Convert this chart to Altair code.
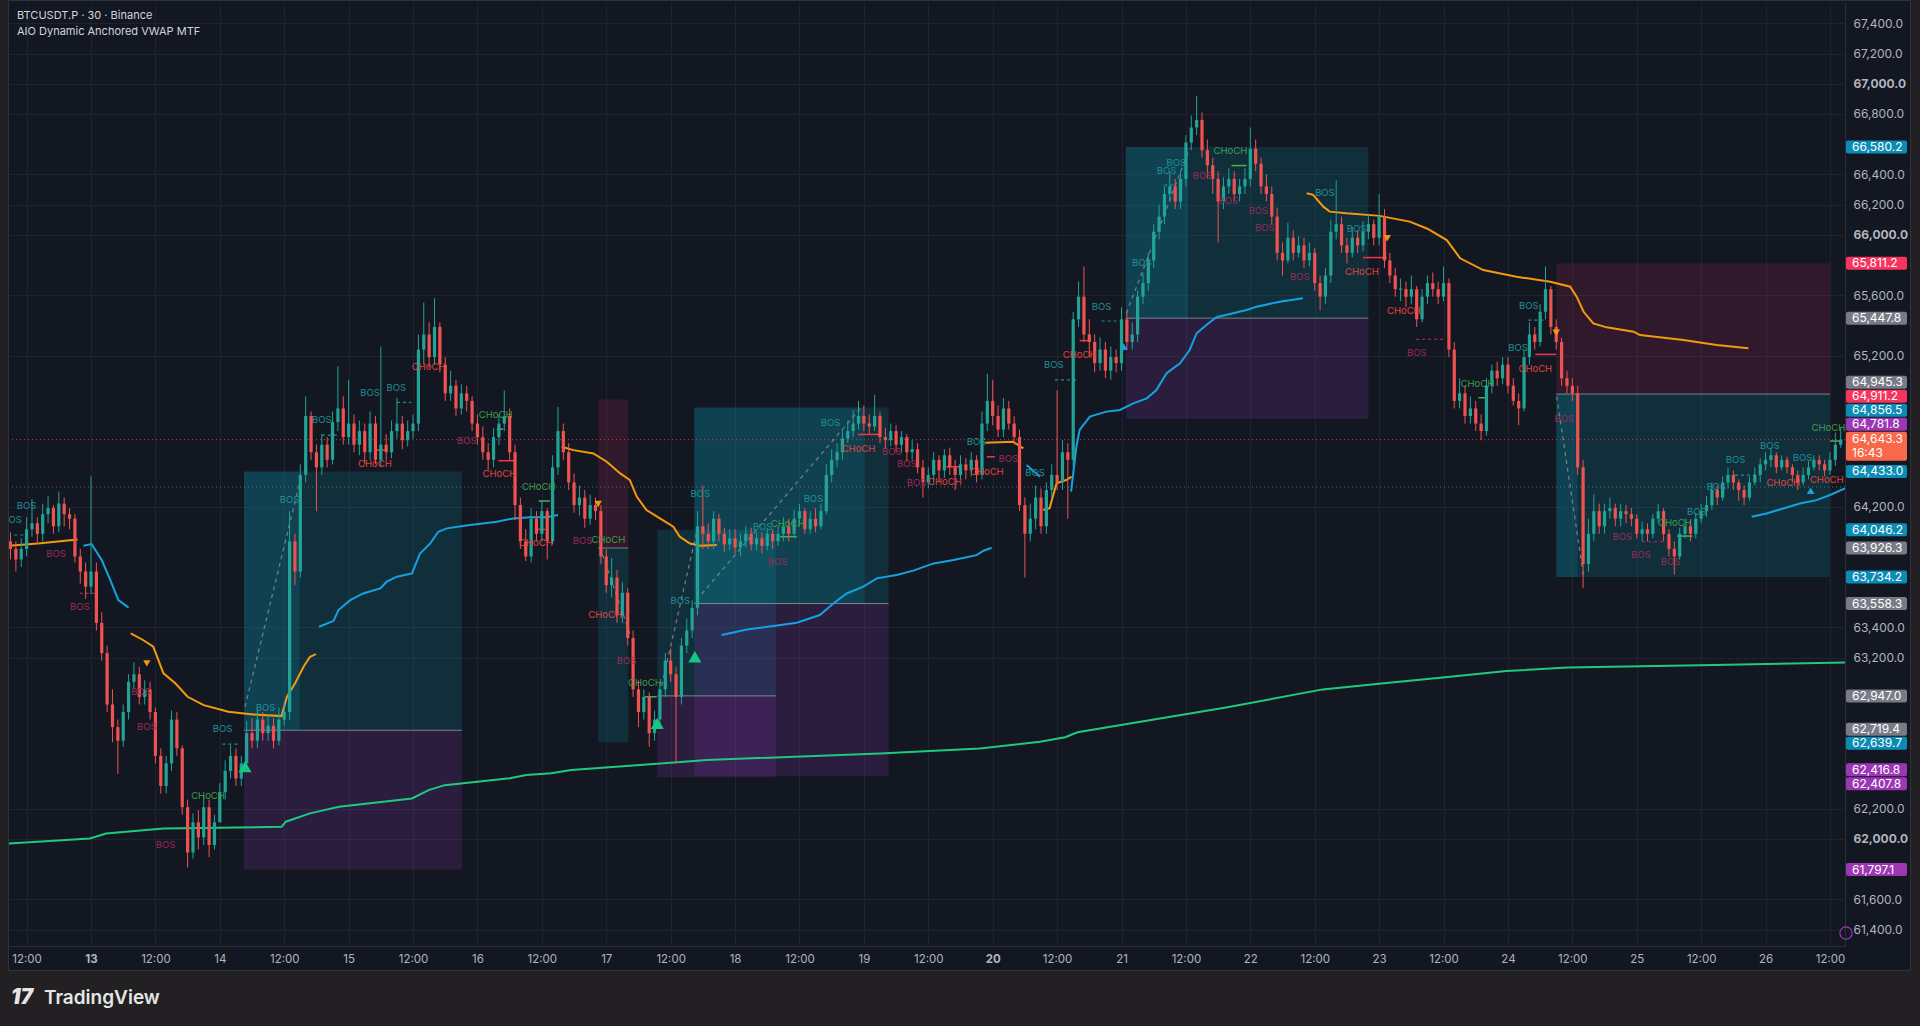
import altair as alt
import pandas as pd

# ---------------------------------------------------------------- texts
TITLE_LINE_1 = "BTCUSDT.P · 30 · Binance"
TITLE_LINE_2 = "AIO Dynamic Anchored VWAP MTF"
BRAND = "TradingView"
COUNTDOWN = "16:43"

# ---------------------------------------------------------------- candles (hourly, hour 0 = 12 Oct 00:00)
FIRST_HOUR = 9
FIRST_OPEN = 63970

CLOSE = [
    63920, 63850, 63920, 64050, 64090, 64020, 64150, 64190, 64070, 64220, 64150, 64120, 63870, 63770, 63670,
    63770, 63430, 63230, 62890, 62740, 62650, 62840, 63040, 63090, 62940, 62990, 62840, 62550, 62350, 62500, 62790, 62600, 62210, 61910, 62110, 62010, 62210, 61960, 62110,
    62310, 62450, 62550, 62400, 62500, 62700, 62650, 62790, 62700, 62750, 62650, 62790, 62840, 63970, 63770, 64410, 64800, 64560, 64460, 64610, 64510, 64760, 64850, 64660,
    64750, 64610, 64700, 64560, 64750, 64510, 64610, 64560, 64700, 64750, 64640, 64700, 64750, 65240, 65340, 65190, 65390, 65140, 64950, 65000, 64850, 64950, 64900, 64750,
    64660, 64560, 64510, 64660, 64750, 64800, 64560, 64210, 63970, 63870, 64120, 64020, 64170, 63970, 64460, 64700, 64560, 64360, 64210, 64260, 64120, 64210, 64170, 63870,
    63680, 63730, 63480, 63630, 63330, 62990, 62840, 62940, 62700, 62790, 62990, 63180, 63090, 62940, 63280, 63380, 63530, 64070, 64020, 63970, 64120, 64020, 63950, 63990,
    63930, 63970, 64020, 63950, 63990, 63940, 64020, 63970, 64020, 64070, 64020, 64120, 64170, 64050, 64120, 64070, 64170, 64410, 64510, 64560, 64650, 64700, 64750, 64800,
    64750, 64730, 64800, 64660, 64640, 64700, 64610, 64660, 64560, 64580, 64460, 64360, 64410, 64510, 64440, 64540, 64460, 64410, 64480, 64440, 64510, 64410, 64750, 64900,
    64800, 64710, 64850, 64750, 64660, 64210, 64020, 64120, 64260, 64070, 64310, 64410, 64360, 64560, 64510, 65440, 65590, 65340, 65290, 65150, 65240, 65100, 65190, 65150,
    65440, 65290, 65340, 65590, 65680, 65830, 66020, 66120, 66270, 66320, 66220, 66370, 66610, 66710, 66760, 66560, 66460, 66370, 66220, 66320, 66370, 66270, 66320, 66370,
    66570, 66470, 66320, 66270, 66120, 65880, 65830, 65980, 65880, 65930, 65830, 65880, 65680, 65590, 65730, 66020, 66070, 65930, 65880, 65980, 65930, 66020, 66070, 65980,
    66120, 65830, 65730, 65640, 65640, 65590, 65640, 65440, 65590, 65680, 65640, 65590, 65680, 65240, 64900, 64950, 64800, 64850, 64750, 64700, 65000, 65100, 65050, 65140,
    65000, 64900, 64850, 65190, 65340, 65290, 65490, 65640, 65390, 65290, 65050, 65000, 64950, 64460, 63820, 64020, 64170, 64070, 64170, 64190, 64120, 64170, 64150, 64120,
    64020, 64050, 64020, 64120, 64170, 64020, 63920, 63870, 64020, 64070, 64020, 64120, 64170, 64210, 64310, 64260, 64360, 64410, 64360, 64310, 64260, 64360, 64410, 64480,
    64510, 64540, 64460, 64510, 64460, 64410, 64360, 64410, 64460, 64510, 64480, 64440, 64510, 64610, 64643.3,
]
HIGH = [
    64030, 63970, 63990, 64130, 64250, 64130, 64220, 64270, 64210, 64300, 64260, 64190, 64150, 63920, 63830,
    64400, 63830, 63500, 63280, 62990, 62790, 62890, 63090, 63170, 63140, 63050, 63040, 62870, 62600, 62550, 62850, 62840, 62620, 62260, 62170, 62190, 62290, 62260, 62160,
    62370, 62520, 62620, 62600, 62550, 62780, 62800, 62860, 62840, 62820, 62800, 62870, 62910, 64170, 64020, 64480, 64930, 64830, 64610, 64680, 64660, 64830, 65130, 64930,
    65040, 64810, 64770, 64750, 64830, 64800, 65260, 64680, 64770, 64920, 64800, 64770, 64810, 65340, 65550, 65420, 65580, 65420, 65190, 65100, 65040, 65010, 65000, 64930,
    64810, 64730, 64620, 64720, 64810, 64970, 64850, 64610, 64260, 64050, 64190, 64170, 64240, 64190, 64540, 64860, 64750, 64620, 64420, 64340, 64310, 64280, 64260, 64210,
    63920, 63860, 63780, 63700, 63660, 63380, 63050, 62990, 62970, 62850, 63040, 63230, 63260, 63140, 63330, 63460, 63580, 64170, 64340, 64090, 64170, 64150, 64060, 64050,
    64050, 64020, 64070, 64060, 64030, 64030, 64060, 64050, 64070, 64130, 64120, 64180, 64220, 64190, 64170, 64190, 64220, 64480, 64580, 64620, 64710, 64770, 64840, 64900,
    64870, 64810, 64940, 64830, 64720, 64750, 64740, 64700, 64680, 64640, 64620, 64510, 64460, 64560, 64540, 64580, 64590, 64510, 64540, 64520, 64560, 64540, 64830, 65080,
    65040, 64870, 64920, 64900, 64800, 64710, 64260, 64220, 64340, 64320, 64360, 64480, 64970, 64640, 64620, 65490, 65690, 65790, 65440, 65340, 65320, 65290, 65260, 65240,
    65520, 65490, 65420, 65630, 65750, 65880, 66070, 66200, 66320, 66420, 66370, 66420, 66660, 66790, 66920, 66810, 66630, 66510, 66420, 66380, 66440, 66420, 66370, 66440,
    66710, 66630, 66510, 66400, 66320, 66180, 65950, 66080, 66030, 65990, 65980, 65950, 65910, 65730, 65780, 66100, 66360, 66120, 65980, 66050, 66030, 66090, 66140, 66100,
    66270, 66170, 65880, 65780, 65710, 65690, 65730, 65660, 65640, 65730, 65750, 65690, 65790, 65710, 65290, 65050, 65000, 64930, 64900, 64810, 65050, 65140, 65160, 65190,
    65190, 65050, 64950, 65240, 65420, 65390, 65540, 65790, 65660, 65440, 65320, 65100, 65050, 65000, 64510, 64120, 64280, 64220, 64220, 64260, 64220, 64220, 64210, 64190,
    64150, 64100, 64090, 64150, 64220, 64190, 64050, 63970, 64060, 64120, 64110, 64160, 64220, 64270, 64360, 64340, 64400, 64460, 64440, 64380, 64340, 64400, 64460, 64520,
    64560, 64590, 64560, 64540, 64530, 64480, 64440, 64460, 64500, 64540, 64540, 64510, 64560, 64690, 64720,
]
LOW = [
    63850, 63770, 63800, 63870, 64000, 63950, 63970, 64090, 64020, 64030, 64070, 64050, 63830, 63690, 63590,
    63620, 63380, 63180, 62840, 62640, 62430, 62610, 62790, 62990, 62890, 62890, 62790, 62500, 62300, 62300, 62450, 62550, 62160, 61810, 61870, 61930, 61960, 61880, 61930,
    62260, 62260, 62400, 62350, 62350, 62450, 62600, 62600, 62650, 62650, 62600, 62620, 62750, 62790, 63680, 63730, 64360, 64510, 64170, 64410, 64460, 64480, 64700, 64610,
    64610, 64560, 64540, 64480, 64510, 64480, 64460, 64510, 64520, 64650, 64580, 64600, 64650, 64700, 65140, 65120, 65140, 65090, 64900, 64900, 64800, 64810, 64830, 64700,
    64610, 64510, 64440, 64460, 64610, 64700, 64510, 64110, 63920, 63840, 63830, 63970, 63970, 63850, 63950, 64410, 64510, 64310, 64160, 64140, 64060, 64080, 64110, 63820,
    63630, 63600, 63430, 63430, 63280, 62940, 62740, 62790, 62610, 62650, 62740, 62940, 63040, 62500, 62890, 63230, 63330, 63480, 63920, 63920, 63920, 63970, 63900, 63910,
    63890, 63870, 63930, 63910, 63910, 63890, 63910, 63920, 63940, 63970, 63970, 63990, 64070, 64020, 64020, 64030, 64050, 64150, 64360, 64460, 64510, 64620, 64660, 64710,
    64700, 64680, 64700, 64620, 64580, 64600, 64560, 64560, 64500, 64510, 64420, 64260, 64320, 64360, 64360, 64390, 64410, 64310, 64380, 64380, 64400, 64360, 64380, 64700,
    64740, 64660, 64660, 64710, 64610, 64170, 63730, 63970, 64050, 64020, 64020, 64260, 64310, 64310, 64120, 64460, 65390, 65290, 65190, 65090, 65100, 65050, 65040, 65090,
    65100, 65240, 65240, 65290, 65540, 65630, 65780, 65970, 66070, 66220, 66170, 66170, 66320, 66560, 66660, 66510, 66370, 66270, 65950, 66170, 66270, 66220, 66220, 66270,
    66320, 66420, 66270, 66220, 66070, 65830, 65730, 65810, 65830, 65850, 65780, 65790, 65630, 65500, 65540, 65680, 65970, 65880, 65810, 65850, 65880, 65890, 65970, 65930,
    65930, 65780, 65680, 65590, 65560, 65520, 65540, 65390, 65420, 65540, 65590, 65540, 65560, 65190, 64850, 64850, 64750, 64750, 64700, 64640, 64670, 64950, 65000, 65010,
    64950, 64870, 64740, 64830, 65140, 65240, 65260, 65440, 65340, 65240, 65000, 64950, 64900, 64410, 63660, 63770, 63970, 64020, 64020, 64120, 64070, 64070, 64090, 64070,
    63990, 63970, 63970, 63990, 64090, 63970, 63870, 63750, 63850, 63990, 63970, 63990, 64090, 64130, 64180, 64210, 64240, 64320, 64310, 64240, 64210, 64240, 64340, 64360,
    64440, 64460, 64420, 64440, 64420, 64360, 64310, 64340, 64380, 64440, 64440, 64400, 64410, 64470, 64590,
]

# ---------------------------------------------------------------- VWAP lines (hour, price)
GREEN_VWAP = [(8.7, 61970), (23.8, 62003), (26.8, 62036), (37.5, 62069), (59.5, 62080), (60.3, 62114),
              (64.8, 62169), (70.2, 62213), (83.8, 62268), (86.9, 62323), (89.9, 62356), (102, 62401),
              (105.1, 62423), (109.7, 62434), (113.5, 62456), (126.3, 62489), (138.7, 62522), (171, 62566),
              (189.6, 62599), (200.8, 62643), (205.5, 62673), (207.8, 62706), (235.2, 62868), (253.5, 62990),
              (264.9, 63030), (276.3, 63071), (287.7, 63111), (299.1, 63135), (326.5, 63152), (350.8, 63168)]

ORANGE_A = [(8.7, 63941), (14.6, 63957), (21.5, 63983)]
ORANGE_B = [(31.4, 63361), (33.7, 63317), (35.6, 63273), (37.5, 63096), (39.7, 63030), (42, 62941),
            (45, 62886), (49.6, 62842), (54.2, 62824), (59.5, 62813), (60.5, 62941), (62.0, 63029),
            (63.6, 63140), (64.8, 63206), (65.9, 63224)]
ORANGE_C = [(111.7, 64596), (113.9, 64574), (117.6, 64552), (120.1, 64497), (122.6, 64420), (124.4, 64376),
            (125.7, 64265), (127.5, 64177), (130, 64122), (132.5, 64067), (133.7, 64001), (135.6, 63956),
            (137.5, 63941), (140.6, 63946)]
ORANGE_D = [(190.6, 64623), (195.8, 64630), (197.7, 64586)]
ORANGE_E = [(201.4, 64178), (202.6, 64189), (203.9, 64354), (205.7, 64376), (206.7, 64399)]
ORANGE_F = [(250.5, 66275), (251.7, 66264), (253.6, 66186), (254.8, 66153), (257.9, 66142), (264.1, 66125),
            (269.7, 66087), (273, 66040), (276.6, 65965), (279.1, 65844), (283.4, 65766), (289.6, 65722),
            (295.9, 65689), (299.6, 65656), (300.8, 65590), (302.1, 65490), (303.9, 65413), (306.4, 65387),
            (311.4, 65358), (312.6, 65336), (320.7, 65303), (326.9, 65270), (332.8, 65248)]

CYAN_A = [(22.6, 63941), (24.1, 63952), (26, 63846), (27.6, 63714), (29.1, 63581), (31, 63531)]
CYAN_B = [(66.5, 63405), (69.2, 63444), (70.1, 63515), (72.3, 63581), (74.7, 63625), (77.9, 63658),
          (79.1, 63703), (81, 63736), (83.8, 63758), (85.3, 63890), (87.2, 63956), (88.7, 64034),
          (90.3, 64056), (94.6, 64078), (99.6, 64100), (102.7, 64122), (105.8, 64129), (108.9, 64129), (111, 64144)]
CYAN_C = [(141.5, 63350), (146.2, 63387), (151.1, 63409), (155.5, 63431), (159.8, 63482), (162.3, 63559),
          (164.8, 63625), (167.9, 63670), (170.4, 63725), (174.1, 63747), (177.2, 63776), (181, 63824),
          (184.7, 63846), (189, 63879), (190.3, 63908), (191.8, 63928)]
CYAN_D = [(198.3, 64475), (200.8, 64398)]
CYAN_E = [(206.6, 64300), (207.6, 64597), (208.2, 64708), (210.1, 64796), (213.2, 64829), (215.7, 64840),
          (218.2, 64884), (220.7, 64917), (222.5, 64972), (224.4, 65083), (226.9, 65149), (228.7, 65237),
          (230, 65348), (231.8, 65403), (233.7, 65454), (236.8, 65480), (239.3, 65502), (241.2, 65524),
          (245.5, 65557), (249.8, 65579)]
CYAN_F = [(333.4, 64133), (336.2, 64155), (339.3, 64188), (342.4, 64221), (345.5, 64243), (348, 64277), (350.8, 64321)]

# ---------------------------------------------------------------- zones (start hour, end hour, low, high, kind)
ZONES = [
    (52.5, 93.1, 62719.4, 64433.0, "teal"), (52.5, 62.9, 62719.4, 64433.0, "teal"), (52.5, 93.1, 61797.1, 62719.4, "purple"),
    (118.5, 124.1, 63926.3, 64911.2, "red"), (118.5, 124.1, 62639.7, 63926.3, "teal"),
    (129.5, 151.6, 62947.0, 64046.2, "teal"), (129.5, 151.6, 62407.8, 62947.0, "purple"),
    (136.4, 172.6, 63558.3, 64856.5, "teal"), (136.4, 168.0, 63558.3, 64856.5, "teal"), (136.4, 172.6, 62416.8, 63558.3, "purple"),
    (216.8, 262.0, 65447.8, 66580.2, "teal"), (216.8, 228.4, 65447.8, 66580.2, "teal"), (216.8, 262.0, 64781.8, 65447.8, "purple"),
    (297.0, 348.0, 64945.3, 65811.2, "red"), (297.0, 348.0, 63734.2, 64945.3, "teal"), (297.0, 301.0, 63734.2, 64945.3, "teal"),
]
SPLITS = [(52.5, 93.1, 62719.4), (118.5, 124.1, 63926.3), (129.5, 151.6, 62947.0),
          (136.4, 172.6, 63558.3), (216.8, 262.0, 65447.8), (297.0, 348.0, 64945.3)]

# ---------------------------------------------------------------- diagonal dashed links (h1, p1, h2, p2)
LINKS = [(52.7, 62875, 63.3, 64420), (130, 62963, 136.8, 64023), (136.8, 63581, 167.6, 64861),
         (216.9, 65480, 228.7, 66573), (297.1, 64928, 302.1, 63736), (118.8, 63934, 124.4, 63360)]

# ---------------------------------------------------------------- structure lines (h1, h2, price, kind)
STRUCT = [
    (76.9, 79.1, 64574, "red"), (99.9, 103.0, 64504, "red"), (99.6, 100.8, 64713, "green"),
    (107.4, 109.5, 64237, "green"), (107.0, 108.6, 64049, "red"), (127.2, 129.4, 62941, "green"),
    (152.4, 155.5, 64001, "green"), (166.9, 171.0, 64678, "red"), (183.4, 185.9, 64464, "red"),
    (190.9, 192.4, 64530, "red"), (236.5, 239.3, 66458, "green"), (261.0, 265.4, 65849, "red"),
    (208.2, 210.1, 65299, "red"), (293.1, 297.0, 65208, "red"), (282.5, 283.7, 64921, "green"),
    (319.5, 322.4, 64005, "green"), (348.0, 350.0, 64634, "green"),
    (270.9, 276.0, 65307, "maroon"), (313.0, 317.6, 63968, "maroon"), (21.9, 24.9, 63625, "maroon"),
    (291.8, 294.6, 65435, "teal"), (330.3, 335.0, 64409, "teal"), (212.3, 216.0, 65429, "teal"),
    (203.6, 207.6, 65039, "teal"), (224.0, 225.9, 66328, "teal"), (67.0, 69.8, 64674, "teal"),
    (81.0, 83.7, 64890, "teal"), (48.5, 51.9, 62628, "teal"), (9.7, 11.6, 64012, "teal"),
]

# ---------------------------------------------------------------- BOS / CHoCH tags (hour, price, text, kind)
TAGS = [
    (9.3, 64111, "BOS", "up"), (12.0, 64204, "BOS", "up"), (17.5, 63884, "BOS", "dn"), (21.9, 63537, "BOS", "dn"),
    (33.3, 62970, "BOS", "dn"), (34.4, 62740, "BOS", "dn"), (37.9, 61961, "BOS", "dn"), (45.8, 62284, "CHoCH", "chup"),
    (48.5, 62725, "BOS", "up"), (56.5, 62864, "BOS", "up"), (61.0, 64243, "BOS", "up"), (67.0, 64773, "BOS", "up"),
    (76.0, 64954, "BOS", "up"), (80.9, 64983, "BOS", "up"), (76.9, 64482, "CHoCH", "chdn"), (86.9, 65126, "CHoCH", "chdn"),
    (99.4, 64808, "CHoCH", "chup"), (94.0, 64636, "BOS", "dn"), (100.1, 64413, "CHoCH", "chdn"), (107.4, 64327, "CHoCH", "chup"),
    (106.9, 63959, "CHoCH", "chdn"), (115.6, 63972, "BOS", "dn"), (120.4, 63976, "CHoCH", "chup"), (119.8, 63482, "CHoCH", "chdn"),
    (123.8, 63180, "BOS", "dn"), (127.2, 63034, "CHoCH", "chup"), (133.8, 63577, "BOS", "up"), (137.5, 64281, "BOS", "up"),
    (149.1, 64062, "BOS", "up"), (153.8, 64082, "CHoCH", "chup"), (151.9, 63835, "BOS", "dn"), (158.6, 64252, "BOS", "up"),
    (161.8, 64756, "BOS", "up"), (167.0, 64579, "CHoCH", "chdn"), (173.2, 64562, "BOS", "dn"), (176.0, 64484, "BOS", "dn"),
    (177.8, 64354, "BOS", "dn"), (183.1, 64365, "CHoCH", "chdn"), (190.9, 64431, "CHoCH", "chdn"), (189.0, 64627, "BOS", "up"),
    (194.9, 64513, "BOS", "dn"), (199.9, 64420, "BOS", "up"), (203.4, 65136, "BOS", "up"), (208.2, 65204, "CHoCH", "chdn"),
    (212.3, 65524, "BOS", "up"), (219.8, 65811, "BOS", "up"), (224.4, 66425, "BOS", "up"), (226.2, 66478, "BOS", "up"),
    (231.1, 66389, "BOS", "dn"), (236.3, 66555, "CHoCH", "chup"), (235.9, 66226, "BOS", "dn"), (241.5, 66158, "BOS", "dn"),
    (242.7, 66047, "BOS", "dn"), (249.2, 65718, "BOS", "dn"), (253.9, 66275, "BOS", "up"), (259.8, 66038, "BOS", "up"),
    (260.8, 65752, "CHoCH", "chdn"), (268.6, 65495, "CHoCH", "chdn"), (271.0, 65215, "BOS", "dn"), (282.3, 65009, "CHoCH", "chup"),
    (291.9, 65530, "BOS", "up"), (289.9, 65252, "BOS", "up"), (293.1, 65111, "CHoCH", "chdn"), (298.5, 64778, "BOS", "dn"),
    (309.3, 64001, "BOS", "dn"), (312.8, 63877, "BOS", "dn"), (318.3, 63835, "BOS", "dn"), (319.1, 64093, "CHoCH", "chup"),
    (323.2, 64166, "BOS", "up"), (326.8, 64332, "BOS", "up"), (330.4, 64508, "BOS", "up"), (336.8, 64603, "BOS", "up"),
    (339.3, 64354, "CHoCH", "chdn"), (342.9, 64524, "BOS", "up"), (347.4, 64376, "CHoCH", "chdn"), (347.7, 64723, "CHoCH", "chup"),
]

# ---------------------------------------------------------------- signal triangles (hour, price)
SELL_MARKS = [(34.4, 63162), (118.5, 64217), (265.5, 65977), (297.0, 65351)]
BUY_MARKS = [(52.7, 62478), (129.5, 62765), (136.5, 63206)]
SMALL_BUY_MARKS = [(216.4, 65259), (344.4, 64305)]

# ---------------------------------------------------------------- right-axis price labels
PRICE_TAGS = [66580.2, 65811.2, 65447.8, 64945.3, 64911.2, 64856.5, 64781.8, 64433.0, 64046.2,
              63926.3, 63734.2, 63558.3, 62947.0, 62719.4, 62639.7, 62416.8, 62407.8, 61797.1]
PRICE_TAG_KIND = ["blue", "red", "gray", "gray", "red", "blue", "purple", "blue", "blue",
                  "gray", "blue", "gray", "gray", "gray", "blue", "purple", "purple", "purple"]
LAST_PRICE = 64643.3
REF_LEVEL = 64330
PRICE_TICKS = list(range(61400, 67401, 200))
TIME_TICKS = list(range(12, 349, 12))

# ================================================================ layout & style
W, H = 1836, 944
X_DOM = [8.72, 350.8]
Y_DOM = [61291, 67541]
PPU = H / (Y_DOM[1] - Y_DOM[0])
FONT = "Inter"
PANEL = "#131722"
PAGE = "#222023"
GRID = "#1f2330"
BORDER = "#2a2e39"
AXIS_TXT = "#b2b5be"
UP = "#22a396"
DOWN = "#ef5350"
ZONE_COL = {"teal": ("#0aa0b8", 0.17), "purple": ("#a03cc8", 0.17), "red": ("#e0285a", 0.14)}
TAG_COL = {"up": "#1f8f97", "dn": "#9a2a55", "chup": "#3f9e4a", "chdn": "#e0443f"}
STRUCT_COL = {"red": "#f23645", "green": "#4caf50", "maroon": "#9a2a55", "teal": "#1f8f97"}
LABEL_COL = {"blue": "#0b8cb5", "red": "#f7345e", "gray": "#787b86", "purple": "#9c36b5"}
LAST_COL = "#f8684b"

# ---------------------------------------------------------------- right-axis labels: spread overlapping tags
items = [[(Y_DOM[1] - v) * PPU, 13.0, i] for i, v in enumerate(PRICE_TAGS)]
items.append([(Y_DOM[1] - LAST_PRICE) * PPU, 29.0, "last"])
items.sort(key=lambda t: t[0])
for _ in range(400):
    moved = False
    for i in range(len(items) - 1):
        a, b = items[i], items[i + 1]
        need = (a[1] + b[1]) / 2 + 1
        if b[0] - a[0] < need - 1e-6:
            s = (need - (b[0] - a[0])) / 2
            a[0] -= s
            b[0] += s
            moved = True
    if not moved:
        break


def pv(px):
    return Y_DOM[1] - px / PPU


# price-scale labels hidden by the coloured tags (as the platform does)
visible_ticks = [v for v in PRICE_TICKS
                 if all(abs((Y_DOM[1] - v) * PPU - pos) > hh / 2 + 5 for pos, hh, _ in items)]

tag_boxes, tag_texts = [], []
for pos, hh, key in items:
    if key == "last":
        tag_boxes.append(dict(y1=pv(pos - hh / 2), y2=pv(pos + hh / 2), col=LAST_COL))
        tag_texts.append(dict(y=pv(pos - 7), t=f"{LAST_PRICE:,.1f}"))
        tag_texts.append(dict(y=pv(pos + 7), t=COUNTDOWN))
    else:
        tag_boxes.append(dict(y1=pv(pos - hh / 2), y2=pv(pos + hh / 2), col=LABEL_COL[PRICE_TAG_KIND[key]]))
        tag_texts.append(dict(y=pv(pos), t=f"{PRICE_TAGS[key]:,.1f}"))
tag_box_df = pd.DataFrame(tag_boxes)
tag_text_df = pd.DataFrame(tag_texts)

xs = alt.Scale(domain=X_DOM, nice=False, zero=False)
ys = alt.Scale(domain=Y_DOM, nice=False, zero=False)

x_axis = alt.Axis(
    values=TIME_TICKS,
    labelExpr="datum.value % 24 == 0 ? toString(12 + datum.value / 24) : '12:00'",
    title=None, grid=True, gridColor=GRID, gridWidth=1, domain=True, domainColor=BORDER,
    ticks=False, tickSize=0, labelPadding=7, labelFontSize=11.5, labelColor=AXIS_TXT, labelFont=FONT,
    labelOverlap=False, labelFlush=False,
    labelFontWeight={"condition": {"test": "datum.value == 24 || datum.value == 192", "value": "bold"},
                     "value": "normal"},
)
y_axis = alt.Axis(
    values=visible_ticks, format=",.1f", orient="right",
    title=None, grid=True, gridColor=GRID, gridWidth=1, domain=True, domainColor=BORDER,
    ticks=False, tickSize=0, labelPadding=8, labelFontSize=12, labelColor=AXIS_TXT, labelFont=FONT,
    labelOverlap=False, labelFlush=False,
    labelFontWeight={"condition": {"test": "datum.value % 1000 == 0", "value": "bold"}, "value": "normal"},
)


def X(field, **kw):
    return alt.X(field, type="quantitative", scale=xs, axis=x_axis, **kw)


def Y(field, **kw):
    return alt.Y(field, type="quantitative", scale=ys, axis=y_axis, **kw)


# ---------------------------------------------------------------- tables
rows = []
prev = FIRST_OPEN
for i, c in enumerate(CLOSE):
    o = prev
    hi = max(HIGH[i], o, c)
    lo = min(LOW[i], o, c)
    b1, b2 = min(o, c), max(o, c)
    if b2 - b1 < 8:
        m = (b1 + b2) / 2
        b1, b2 = m - 4, m + 4
    h = FIRST_HOUR + i
    rows.append(dict(h=h, hx1=h - 0.3, hx2=h + 0.3, hi=hi, lo=lo, b1=b1, b2=b2,
                     col=UP if c >= o else DOWN))
    prev = c
candles = pd.DataFrame(rows)

zone_df = pd.DataFrame([dict(h1=a, h2=b, p1=lo, p2=hi, col=ZONE_COL[k][0], op=ZONE_COL[k][1])
                        for a, b, lo, hi, k in ZONES])
split_df = pd.DataFrame([dict(h1=a, h2=b, p=p) for a, b, p in SPLITS])
link_df = pd.DataFrame([dict(h1=a, p1=b, h2=c, p2=d) for a, b, c, d in LINKS])
struct_df = pd.DataFrame([dict(h1=a, h2=b, p=p, col=STRUCT_COL[k],
                               dash=("solid" if k in ("red", "green") else "dash")) for a, b, p, k in STRUCT])
tag_df = pd.DataFrame([dict(h=h, p=p, t=t, col=TAG_COL[k]) for h, p, t, k in TAGS])


def seg_df(segs):
    out = []
    for sid, seg in enumerate(segs):
        for j, (h, p) in enumerate(seg):
            out.append(dict(seg=sid, o=j, h=h, p=p))
    return pd.DataFrame(out)


green_df = seg_df([GREEN_VWAP])
orange_df = seg_df([ORANGE_A, ORANGE_B, ORANGE_C, ORANGE_D, ORANGE_E, ORANGE_F])
cyan_df = seg_df([CYAN_A, CYAN_B, CYAN_C, CYAN_D, CYAN_E, CYAN_F])

# ================================================================ layers
zones = alt.Chart(zone_df).mark_rect(clip=True).encode(
    x=X("h1"), x2="h2", y=Y("p1"), y2="p2",
    color=alt.Color("col:N", scale=None),
    opacity=alt.Opacity("op:Q", scale=None),
)

splits = alt.Chart(split_df).mark_rule(clip=True, color="#9598a1", strokeWidth=1, opacity=0.8).encode(
    x=X("h1"), x2="h2", y=Y("p"))

ref_rule = alt.Chart(pd.DataFrame({"p": [REF_LEVEL]})).mark_rule(
    clip=True, color="#787b86", strokeDash=[1, 3], strokeWidth=1, opacity=0.8).encode(y=Y("p"))
last_rule = alt.Chart(pd.DataFrame({"p": [LAST_PRICE]})).mark_rule(
    clip=True, color="#f23645", strokeDash=[1, 3], strokeWidth=1, opacity=0.9).encode(y=Y("p"))

green_line = alt.Chart(green_df).mark_line(clip=True, color="#1fc97f", strokeWidth=2).encode(
    x=X("h"), y=Y("p"), order="o:Q")
orange_line = alt.Chart(orange_df).mark_line(clip=True, color="#f59a0c", strokeWidth=2).encode(
    x=X("h"), y=Y("p"), detail="seg:N", order="o:Q")
cyan_line = alt.Chart(cyan_df).mark_line(clip=True, color="#14a3e0", strokeWidth=2).encode(
    x=X("h"), y=Y("p"), detail="seg:N", order="o:Q")

links = alt.Chart(link_df).mark_rule(clip=True, color="#9598a1", strokeDash=[4, 4], strokeWidth=1.3,
                                     opacity=0.7).encode(x=X("h1"), y=Y("p1"), x2="h2", y2="p2")

struct_solid = alt.Chart(struct_df[struct_df.dash == "solid"]).mark_rule(clip=True, strokeWidth=1.5).encode(
    x=X("h1"), x2="h2", y=Y("p"), color=alt.Color("col:N", scale=None))
struct_dash = alt.Chart(struct_df[struct_df.dash == "dash"]).mark_rule(
    clip=True, strokeWidth=1.2, strokeDash=[3, 3]).encode(
    x=X("h1"), x2="h2", y=Y("p"), color=alt.Color("col:N", scale=None))

wicks = alt.Chart(candles).mark_rule(clip=True, strokeWidth=1).encode(
    x=X("h"), y=Y("lo"), y2="hi", color=alt.Color("col:N", scale=None))
bodies = alt.Chart(candles).mark_rect(clip=True).encode(
    x=X("hx1"), x2="hx2", y=Y("b1"), y2="b2", color=alt.Color("col:N", scale=None))

tags = alt.Chart(tag_df).mark_text(clip=True, font=FONT, fontSize=9.5, baseline="middle", align="center").encode(
    x=X("h"), y=Y("p"), text="t:N", color=alt.Color("col:N", scale=None))

sell = alt.Chart(pd.DataFrame(SELL_MARKS, columns=["h", "p"])).mark_point(
    clip=True, shape="triangle-down", filled=True, size=55, color="#f7931a", opacity=1).encode(x=X("h"), y=Y("p"))
buy = alt.Chart(pd.DataFrame(BUY_MARKS, columns=["h", "p"])).mark_point(
    clip=True, shape="triangle-up", filled=True, size=170, color="#16c784", opacity=1).encode(x=X("h"), y=Y("p"))
small_buy = alt.Chart(pd.DataFrame(SMALL_BUY_MARKS, columns=["h", "p"])).mark_point(
    clip=True, shape="triangle-up", filled=True, size=60, color="#14a3e0", opacity=1).encode(x=X("h"), y=Y("p"))

tag_boxes_l = alt.Chart(tag_box_df).mark_rect(cornerRadius=2).encode(
    x=alt.value(W + 1), x2=alt.value(W + 62), y=Y("y1"), y2="y2", color=alt.Color("col:N", scale=None))
tag_texts_l = alt.Chart(tag_text_df).mark_text(
    font=FONT, fontSize=12, color="#ffffff", align="left", baseline="middle").encode(
    x=alt.value(W + 7), y=Y("y"), text="t:N")

# page frame / footer decoration
frame = alt.Chart(pd.DataFrame({"k": [0]})).mark_rect(color=PAGE).encode(
    x=alt.value(-9), x2=alt.value(W + 75), y=alt.value(H + 25), y2=alt.value(H + 80))
frame_r = alt.Chart(pd.DataFrame({"k": [0]})).mark_rect(color=PAGE).encode(
    x=alt.value(W + 66), x2=alt.value(W + 75), y=alt.value(-2), y2=alt.value(H + 25))
frame_l = alt.Chart(pd.DataFrame({"k": [0]})).mark_rect(color=PAGE).encode(
    x=alt.value(-9), x2=alt.value(-1), y=alt.value(-2), y2=alt.value(H + 25))
frame_line = alt.Chart(pd.DataFrame({"k": [0]})).mark_rect(
    fillOpacity=0, stroke="#2e323d", strokeWidth=1).encode(
    x=alt.value(-0.5), x2=alt.value(W + 65.5), y=alt.value(-1.5), y2=alt.value(H + 24.5))
corner_icon = alt.Chart(pd.DataFrame({"k": [0]})).mark_point(
    shape="circle", filled=False, size=150, color="#9c36b5", strokeWidth=1.2, opacity=1).encode(
    x=alt.value(W + 1), y=alt.value(H - 13))

title1 = alt.Chart(pd.DataFrame({"t": [TITLE_LINE_1]})).mark_text(
    font=FONT, fontSize=11, color="#d1d4dc", align="left", baseline="middle").encode(
    x=alt.value(8), y=alt.value(14), text="t:N")
title2 = alt.Chart(pd.DataFrame({"t": [TITLE_LINE_2]})).mark_text(
    font=FONT, fontSize=11, color="#d1d4dc", align="left", baseline="middle").encode(
    x=alt.value(8), y=alt.value(30), text="t:N")
logo = alt.Chart(pd.DataFrame({"t": ["17"]})).mark_text(
    font=FONT, fontSize=21, fontWeight=900, color="#e6e6e6", align="left", baseline="middle",
    fontStyle="italic").encode(x=alt.value(2), y=alt.value(H + 52), text="t:N")
brand = alt.Chart(pd.DataFrame({"t": [BRAND]})).mark_text(
    font=FONT, fontSize=19, fontWeight=600, color="#e6e6e6", align="left", baseline="middle").encode(
    x=alt.value(35), y=alt.value(H + 52), text="t:N")

chart = alt.layer(
    zones, splits, ref_rule, last_rule, green_line, orange_line, cyan_line, links,
    struct_dash, struct_solid, wicks, bodies, tags, sell, buy, small_buy,
    tag_boxes_l, tag_texts_l, frame, frame_r, frame_l, frame_line, corner_icon,
    title1, title2, logo, brand,
).properties(
    width=W, height=H,
    autosize=alt.AutoSizeParams(type="none"),
    padding={"left": 9, "top": 2, "right": 75, "bottom": 80},
    background=PANEL,
).configure_view(
    fill=PANEL, stroke=None,
)

chart.save("out.html", embed_options={"renderer": "svg", "actions": False})
